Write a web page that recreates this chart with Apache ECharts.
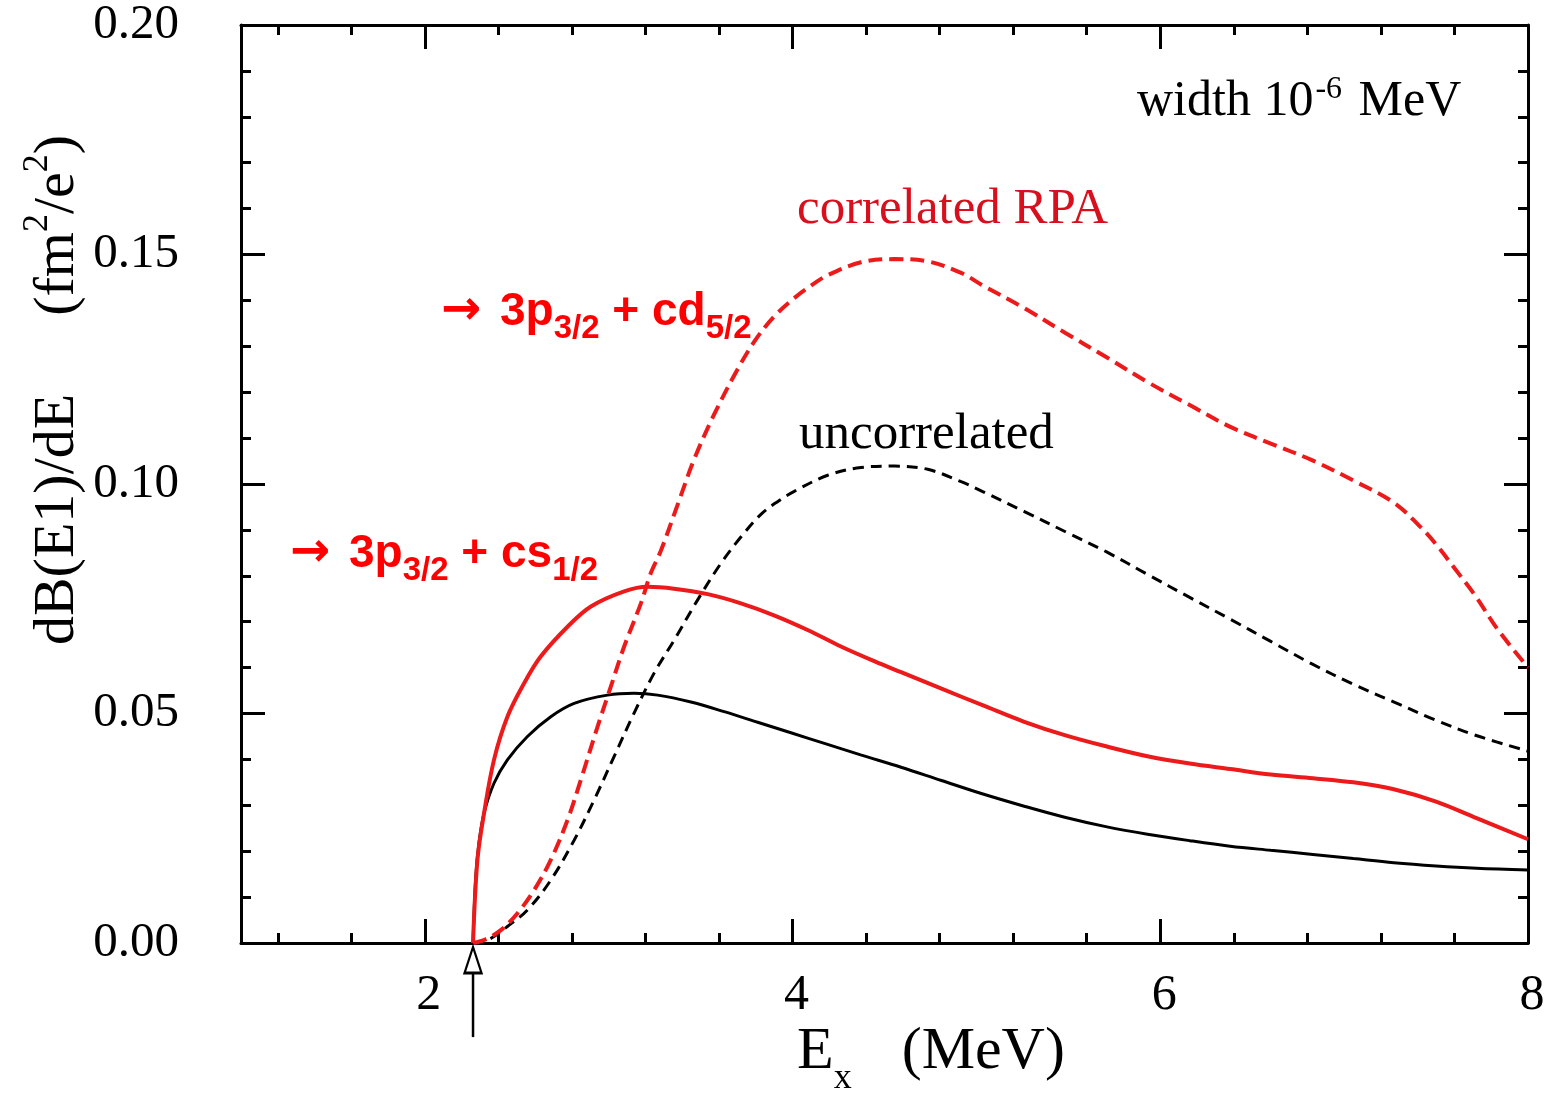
<!DOCTYPE html>
<html>
<head>
<meta charset="utf-8">
<script src="https://cdn.jsdelivr.net/npm/echarts@6/dist/echarts.min.js"></script>
<style>
html,body{margin:0;padding:0;background:#ffffff;}
#chart{width:1550px;height:1093px;}
</style>
</head>
<body>
<div id="chart"></div>
<script>
// ---- tick labels ----
const xTickLabels = ['2', '4', '6', '8'];
const yTickLabels = ['0.00', '0.05', '0.10', '0.15', '0.20'];

// ---- correlated RPA, 3p3/2 + cs1/2 (red solid) ----
const energyCorrS = [2.262, 2.286, 2.322, 2.376, 2.449, 2.540, 2.630, 2.776, 2.903, 3.084, 3.211, 3.354, 3.538, 3.719, 3.899, 4.082, 4.263, 4.450, 4.590, 4.810, 5.040, 5.260, 5.480, 5.710, 5.930, 6.160, 6.380, 6.600, 6.830, 7.050, 7.270, 7.500, 7.720, 8.000];
const corrS = [0, 0.0181, 0.0283, 0.0399, 0.0493, 0.0566, 0.0624, 0.0689, 0.0733, 0.0766, 0.0776, 0.0772, 0.0760, 0.0740, 0.0714, 0.0682, 0.0646, 0.0613, 0.0590, 0.0554, 0.0517, 0.0482, 0.0453, 0.0428, 0.0407, 0.0391, 0.0379, 0.0367, 0.0359, 0.0350, 0.0335, 0.0308, 0.0272, 0.0226];

// ---- uncorrelated, s-wave (black solid) ----
const energyUncS = [2.262, 2.277, 2.294, 2.322, 2.376, 2.449, 2.558, 2.685, 2.812, 2.993, 3.138, 3.266, 3.447, 3.628, 3.810, 3.991, 4.173, 4.370, 4.590, 4.810, 5.040, 5.260, 5.480, 5.710, 5.930, 6.160, 6.380, 6.600, 6.830, 7.050, 7.270, 7.500, 7.720, 8.000];
const uncS = [0, 0.0145, 0.0217, 0.0283, 0.0348, 0.0399, 0.0450, 0.0493, 0.0522, 0.0540, 0.0544, 0.0540, 0.0525, 0.0504, 0.0481, 0.0458, 0.0435, 0.0410, 0.0383, 0.0354, 0.0324, 0.0298, 0.0274, 0.0253, 0.0237, 0.0223, 0.0211, 0.0202, 0.0193, 0.0184, 0.0175, 0.0168, 0.0163, 0.0159];

// ---- correlated RPA, 3p3/2 + cd5/2 (red dashed) ----
const energyCorrD = [2.262, 2.330, 2.413, 2.504, 2.594, 2.685, 2.776, 2.848, 2.939, 3.011, 3.084, 3.175, 3.229, 3.283, 3.374, 3.465, 3.574, 3.701, 3.800, 3.900, 4.009, 4.100, 4.191, 4.372, 4.554, 4.735, 4.917, 5.037, 5.261, 5.484, 5.708, 5.931, 6.155, 6.378, 6.601, 6.825, 7.048, 7.272, 7.406, 7.495, 7.607, 7.718, 7.830, 8.000];
const corrD = [0, 0.0008, 0.0028, 0.0065, 0.0115, 0.0181, 0.0268, 0.0355, 0.0471, 0.0558, 0.0646, 0.0740, 0.0806, 0.0854, 0.0954, 0.1054, 0.1152, 0.1250, 0.1315, 0.1365, 0.1405, 0.1432, 0.1455, 0.1483, 0.1490, 0.1485, 0.1460, 0.1432, 0.1383, 0.1329, 0.1276, 0.1222, 0.1173, 0.1125, 0.1088, 0.1052, 0.1008, 0.0959, 0.0910, 0.0871, 0.0813, 0.0754, 0.0686, 0.0600];

// ---- uncorrelated, d-wave (black dashed) ----
const energyUncD = [2.262, 2.350, 2.449, 2.558, 2.685, 2.812, 2.921, 3.029, 3.138, 3.247, 3.356, 3.483, 3.610, 3.720, 3.828, 3.920, 4.009, 4.191, 4.372, 4.554, 4.735, 4.917, 5.037, 5.261, 5.484, 5.708, 5.931, 6.155, 6.378, 6.601, 6.825, 7.048, 7.272, 7.495, 7.718, 8.000];
const uncD = [0, 0.0008, 0.0036, 0.0072, 0.0137, 0.0224, 0.0312, 0.0406, 0.0501, 0.0588, 0.0660, 0.0747, 0.0827, 0.0885, 0.0934, 0.0962, 0.0984, 0.1019, 0.1036, 0.1039, 0.1032, 0.1005, 0.0983, 0.0940, 0.0896, 0.0852, 0.0803, 0.0754, 0.0706, 0.0657, 0.0608, 0.0564, 0.0525, 0.0486, 0.0452, 0.0418];

// ---- threshold marker (arrow under the axis) ----
const thresholdEnergy = 2.262;
const arrowShaft = [-0.0205, -0.0065];
const arrowHead = -0.0037;

const zip = (xs, ys) => xs.map((x, i) => [x, ys[i]]);

const SERIF = 'Liberation Serif';
const SANS = 'Liberation Sans';
const RED = '#ec1a1a';
const BLACK = '#000000';

const baseX = {
  type: 'value', min: 1, max: 8, splitNumber: 3, minInterval: 2, maxInterval: 2,
  axisLine: { show: true, onZero: false, lineStyle: { color: BLACK, width: 3 } },
  axisTick: { show: true, inside: true, length: 24, lineStyle: { color: BLACK, width: 3 } },
  minorTick: { show: true, splitNumber: 5, length: 10, lineStyle: { color: BLACK, width: 3 } },
  splitLine: { show: false }, minorSplitLine: { show: false }
};
const baseY = {
  type: 'value', min: 0, max: 0.2, interval: 0.05,
  axisLine: { show: true, onZero: false, lineStyle: { color: BLACK, width: 3 } },
  axisTick: { show: true, inside: true, length: 24, lineStyle: { color: BLACK, width: 3 } },
  minorTick: { show: true, splitNumber: 5, length: 10, lineStyle: { color: BLACK, width: 3 } },
  splitLine: { show: false }, minorSplitLine: { show: false }
};

const lineBase = { type: 'line', showSymbol: false, smooth: 0.35 };

const annotRich = {
  r: { fontFamily: 'DejaVu Sans', fontWeight: 'bold', fontSize: 48, fill: '#ff0000', verticalAlign: 'middle', padding: [0, 6, 0, 0] },
  a: { fontFamily: SANS, fontWeight: 'bold', fontSize: 46, fill: '#ff0000', verticalAlign: 'middle' },
  s: { fontFamily: SANS, fontWeight: 'bold', fontSize: 33, fill: '#ff0000', verticalAlign: 'middle', padding: [34, 0, 0, 0] }
};

const chart = echarts.init(document.getElementById('chart'), null, { renderer: 'canvas' });
chart.setOption({
  backgroundColor: '#ffffff',
  animation: false,
  grid: { left: 241, right: 22, top: 25, bottom: 150, containLabel: false, outerBoundsMode: 'none' },
  xAxis: [
    Object.assign({}, baseX, {
      position: 'bottom',
      axisLabel: {
        show: true, margin: 28, color: BLACK, fontFamily: SERIF, fontSize: 50, padding: [0, 0, 0, 8],
        formatter: v => { const s = String(Math.round(v * 1000) / 1000); return xTickLabels.includes(s) ? s : ''; }
      }
    }),
    Object.assign({}, baseX, { position: 'top', axisLabel: { show: false } })
  ],
  yAxis: [
    Object.assign({}, baseY, {
      position: 'left',
      axisLabel: {
        show: true, margin: 62, color: BLACK, fontFamily: SERIF, fontSize: 49,
        formatter: v => yTickLabels[Math.round(v / 0.05)] || ''
      }
    }),
    Object.assign({}, baseY, { position: 'right', axisLabel: { show: false } })
  ],
  series: [
    Object.assign({}, lineBase, {
      name: 'uncorrelated cs1/2', data: zip(energyUncS, uncS),
      lineStyle: { color: BLACK, width: 3 }, z: 2
    }),
    Object.assign({}, lineBase, {
      name: 'uncorrelated cd5/2', data: zip(energyUncD, uncD),
      lineStyle: { color: BLACK, width: 3, type: [11, 7] }, z: 2
    }),
    Object.assign({}, lineBase, {
      name: 'correlated RPA cs1/2', data: zip(energyCorrS, corrS),
      lineStyle: { color: RED, width: 4 }, z: 3
    }),
    Object.assign({}, lineBase, {
      name: 'correlated RPA cd5/2', data: zip(energyCorrD, corrD),
      lineStyle: { color: RED, width: 4, type: [14, 7] }, z: 3
    }),
    {
      name: 'threshold shaft', type: 'line', clip: false, silent: true,
      data: arrowShaft.map(y => [thresholdEnergy, y]),
      showSymbol: false, lineStyle: { color: BLACK, width: 2.5 }, z: 4
    },
    {
      name: 'threshold head', type: 'scatter', clip: false, silent: true,
      data: [[thresholdEnergy, arrowHead]],
      symbol: 'triangle', symbolSize: [17, 26],
      itemStyle: { color: '#ffffff', borderColor: BLACK, borderWidth: 2.5, opacity: 1 }, z: 5
    }
  ],
  graphic: [
    {
      type: 'text', x: 1137, y: 102,
      style: {
        text: '{m|width 10}{p|-6}{m| MeV}', align: 'left', verticalAlign: 'middle',
        rich: {
          m: { fontFamily: SERIF, fontSize: 50, fill: BLACK, verticalAlign: 'middle' },
          p: { fontFamily: SERIF, fontSize: 32, fill: BLACK, verticalAlign: 'middle', padding: [0, 4, 24, 2] }
        }
      }
    },
    {
      type: 'text', x: 797, y: 210,
      style: { text: 'correlated RPA', fontFamily: SERIF, fontSize: 51, fill: '#d8101e', align: 'left', verticalAlign: 'middle' }
    },
    {
      type: 'text', x: 799, y: 435,
      style: { text: 'uncorrelated', fontFamily: SERIF, fontSize: 51, fill: BLACK, align: 'left', verticalAlign: 'middle' }
    },
    {
      type: 'text', x: 441, y: 312,
      style: { text: '{r|→}{a| 3p}{s|3/2}{a| + cd}{s|5/2}', align: 'left', verticalAlign: 'middle', rich: annotRich }
    },
    {
      type: 'text', x: 290, y: 554,
      style: { text: '{r|→}{a| 3p}{s|3/2}{a| + cs}{s|1/2}', align: 'left', verticalAlign: 'middle', rich: annotRich }
    },
    {
      type: 'text', x: 797, y: 1052,
      style: {
        text: '{m|E}{s|x}{g| }{m|(MeV)}', align: 'left', verticalAlign: 'middle',
        rich: {
          m: { fontFamily: SERIF, fontSize: 60, fill: BLACK, verticalAlign: 'middle' },
          s: { fontFamily: SERIF, fontSize: 36, fill: BLACK, verticalAlign: 'middle', padding: [54, 0, 0, 0] },
          g: { fontFamily: SERIF, fontSize: 60, width: 50 }
        }
      }
    },
    {
      type: 'text', x: 58, y: 390, rotation: Math.PI / 2,
      style: {
        text: '{m|dB(E1)/dE}{g| }{m|(fm}{p|2}{m|/e}{p|2}{m|)}', align: 'center', verticalAlign: 'middle',
        rich: {
          m: { fontFamily: SERIF, fontSize: 58, fill: BLACK, verticalAlign: 'middle' },
          p: { fontFamily: SERIF, fontSize: 36, fill: BLACK, verticalAlign: 'middle', padding: [0, 0, 40, 0] },
          g: { fontFamily: SERIF, fontSize: 58, width: 78 }
        }
      }
    }
  ]
});
</script>
</body>
</html>
